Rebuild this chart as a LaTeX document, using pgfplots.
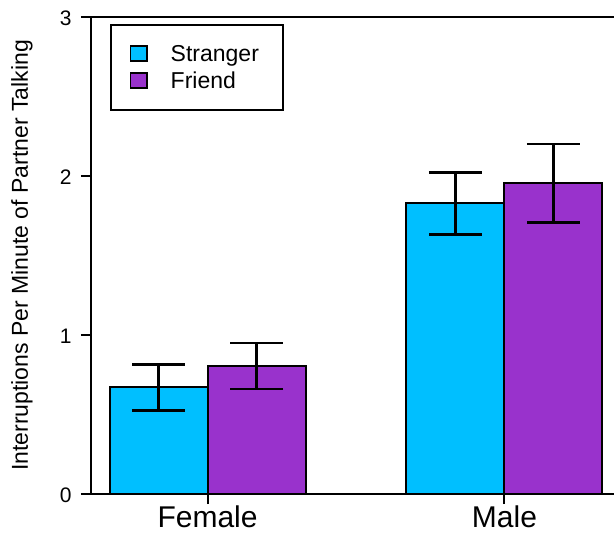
\documentclass[border=0pt]{standalone}
\usepackage{fontspec}
\setmainfont{Liberation Sans}
\usepackage{pgfplots}
\pgfplotsset{compat=1.18}
\definecolor{cstr}{RGB}{0,191,255}
\definecolor{cfri}{RGB}{153,50,204}
\newcommand{\tl}[1]{\fontsize{21}{24}\selectfont #1}
\begin{document}
\begin{tikzpicture}
\begin{axis}[
  scale only axis, width=523pt, height=477pt,
  xmin=-0.3926, xmax=1.369, ymin=0, ymax=3,
  axis lines*=left,
  axis line style={line width=2.5pt},
  ybar=0pt, bar width=98pt,
  xtick={0,1}, xticklabels={Female,Male},
  ytick={0,1,2,3}, yticklabels={\tl{0},\tl{1},\tl{2},\tl{3}},
  tick align=outside,
  major tick length=10pt,
  every tick/.style={black, line width=2pt},
  y tick label style={font=\fontsize{21}{24}\selectfont, xshift=-6pt, yshift=-1pt},
  x tick label style={font=\fontsize{30}{32}\selectfont, yshift=2pt},
  ylabel={Interruptions Per Minute of Partner Talking},
  every axis y label/.style={at={(axis description cs:-0.132,0.5)}, rotate=90, anchor=center, font=\fontsize{23}{26}\selectfont},
  legend style={at={(axis description cs:0.0363,0.985)}, anchor=north west, draw=black, line width=2pt, inner xsep=19pt, inner ysep=16pt, font=\fontsize{23}{26}\selectfont, row sep=1pt, nodes={inner sep=0pt}},
  legend cell align=left,
  legend image code/.code={\path[draw=none,fill=none] (0pt,-13pt) rectangle (40pt,13pt); \draw[#1, line width=1.5pt] (0pt,-7pt) rectangle (16.5pt,8pt);},
]
\coordinate (bl) at (rel axis cs:0,0);
\addplot[fill=cstr, draw=black, line width=2pt,
  error bars/.cd, y dir=both, y explicit,
  error bar style={line width=2.5pt, black},
  error mark options={rotate=90, mark size=26.5pt, line width=2.5pt, black}]
  coordinates {(0,0.670) +- (0,0.144) (1,1.828) +- (0,0.195)};
\addplot[fill=cfri, draw=black, line width=2pt,
  error bars/.cd, y dir=both, y explicit,
  error bar style={line width=2.5pt, black},
  error mark options={rotate=90, mark size=26.5pt, line width=2.5pt, black}]
  coordinates {(0,0.805) +- (0,0.145) (1,1.954) +- (0,0.248)};
\legend{Stranger\hspace*{5pt},Friend}
\draw[line width=2.5pt] (rel axis cs:0,1) -- (rel axis cs:1,1);
\end{axis}
\pgfresetboundingbox
\path (bl) ++(-91pt,-39pt) rectangle ++(614pt,533pt);
\end{tikzpicture}
\end{document}
